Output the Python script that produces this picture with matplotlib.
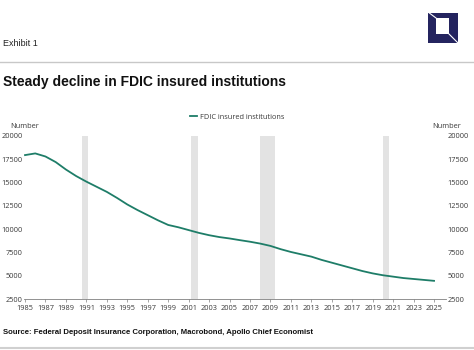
import numpy as np
import matplotlib.pyplot as plt
from matplotlib.patches import Rectangle
from matplotlib.lines import Line2D

# Dados
years = list(range(1985, 2026))
institutions = [17950, 18130, 17800, 17200, 16400, 15700, 15100, 14550, 14000, 13350,
                12650, 12050, 11500, 10950, 10450, 10200, 9900, 9600, 9350, 9150,
                9000, 8820, 8650, 8450, 8200, 7850, 7550, 7300, 7050, 6700,
                6400, 6100, 5800, 5500, 5250, 5050, 4900, 4750, 4650, 4550, 4450]
recessions = [(1990.55, 1991.2), (2001.2, 2001.9), (2007.95, 2009.45), (2020.05, 2020.55)]
yticks = [2500, 5000, 7500, 10000, 12500, 15000, 17500, 20000]
xticks = list(range(1985, 2026, 2))

green = '#1e7d68'
navy = '#24245f'
txt = '#3a3a3a'
tick_font = 'Open Sans'

fig = plt.figure(figsize=(4.74, 3.5), dpi=100)
W, H = 474, 350

def fx(px):
    return px / W

def fy(py):
    return 1 - py / H

# cabeçalho
fig.text(fx(3), fy(44), 'Exhibit 1', fontsize=6.5, family='Liberation Sans',
         color='#222222', va='center', ha='left')
fig.add_artist(Line2D([0, 1], [fy(62), fy(62)], color='#c8c8c8', lw=1.0))
fig.text(fx(3), fy(82), 'Steady decline in FDIC insured institutions', fontsize=10,
         family='Liberation Sans', weight='bold', color='#111111', va='center', ha='left')

# logo
fig.add_artist(Rectangle((fx(428), fy(43)), fx(30), 30 / H, color=navy, lw=0))
fig.add_artist(Rectangle((fx(436), fy(34)), fx(13), 16 / H, color='white', lw=0))
fig.add_artist(Line2D([fx(428), fx(436)], [fy(12), fy(18)], color='white', lw=0.8))
fig.add_artist(Line2D([fx(449), fx(458)], [fy(34), fy(43)], color='white', lw=0.8))

# rodapé
fig.text(fx(3), fy(333), 'Source: Federal Deposit Insurance Corporation, Macrobond, Apollo Chief Economist',
         fontsize=5.6, family='Liberation Sans', weight='bold', color='#111111', va='center', ha='left')
fig.add_artist(Line2D([0, 1], [fy(347.5), fy(347.5)], color='#d0d0d0', lw=1.5))

# gráfico
ax = fig.add_axes([fx(24), fy(299), fx(446 - 24), (299 - 136) / H])
for a, b in recessions:
    ax.axvspan(a, b, color='#e3e3e3', lw=0, zorder=0)
ax.plot(years, institutions, color=green, lw=1.3, label='FDIC insured institutions', zorder=3)

ax.set_xlim(1984.9, 2026.17)
ax.set_ylim(2500, 20000)
for s in ['top', 'left', 'right']:
    ax.spines[s].set_visible(False)
ax.spines['bottom'].set_color('#808080')
ax.spines['bottom'].set_linewidth(0.6)

ax.set_xticks(xticks)
ax.set_xticklabels([str(y) for y in xticks], fontsize=5.3, family=tick_font, color=txt)
ax.tick_params(axis='x', length=2, width=0.5, color='#808080', pad=2)

ax.set_yticks(yticks)
ax.set_yticklabels([str(v) for v in yticks], fontsize=5.3, family=tick_font, color=txt)
ax.tick_params(axis='y', length=0, pad=1, labelleft=True, labelright=True)

fig.text(fx(25), fy(126), 'Number', fontsize=5.3, family=tick_font, color=txt, ha='center', va='center')
fig.text(fx(447), fy(126), 'Number', fontsize=5.3, family=tick_font, color=txt, ha='center', va='center')

leg = fig.legend(loc='center', bbox_to_anchor=(fx(237), fy(117)), frameon=False,
                 prop={'family': tick_font, 'size': 5.3}, handlelength=1.0, handletextpad=0.3)
for t in leg.get_texts():
    t.set_color(txt)

fig.savefig('out.png', dpi=100)
